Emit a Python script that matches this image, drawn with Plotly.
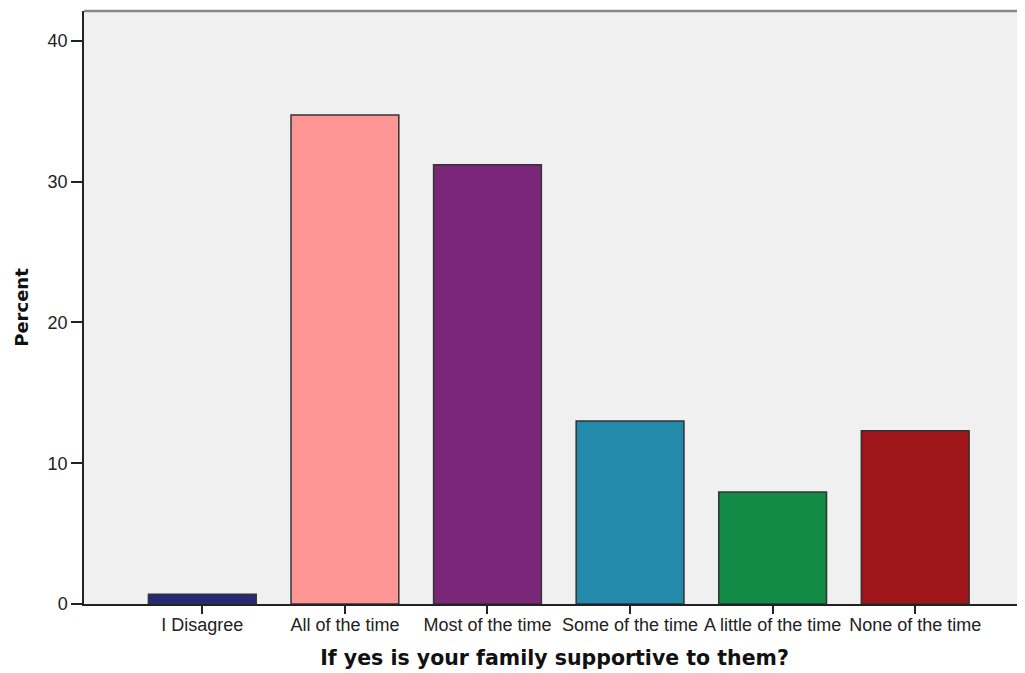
import plotly.graph_objects as go

categories = ["I Disagree", "All of the time", "Most of the time",
              "Some of the time", "A little of the time", "None of the time"]
percent = [0.7, 34.75, 31.2, 13.0, 7.95, 12.3]
bar_colors = ["#262a76", "#fe9696", "#7a277a", "#238aac", "#118b46", "#a0151a"]

fig = go.Figure()
fig.add_trace(go.Bar(
    x=list(range(len(categories))), y=percent,
    width=0.756,
    marker=dict(color=bar_colors, line=dict(color="#333333", width=1.5)),
    hoverinfo="y",
))

tick_font = dict(family="Liberation Sans, Arial, sans-serif", size=18, color="#222222")
title_font = dict(family="DejaVu Sans, Verdana, sans-serif", size=18, color="#111111")

# page body adds an 8px offset, so the figure is sized a bit smaller than the window
fig.update_layout(
    width=1017, height=665,
    margin=dict(l=76, r=0, t=3, b=69),
    plot_bgcolor="#f0f0f0", paper_bgcolor="white",
    showlegend=False,
    xaxis=dict(
        range=[-0.83, 5.77],
        tickvals=list(range(len(categories))), ticktext=categories,
        ticks="outside", ticklen=8, tickwidth=1.5, tickcolor="#222222",
        ticklabelstandoff=-4,
        showline=True, linecolor="#222222", linewidth=1.5,
        showgrid=False, zeroline=False, tickfont=tick_font,
        title=dict(text="<b>If yes is your family supportive to them?</b>",
                   font=dict(family="DejaVu Sans, Verdana, sans-serif", size=20.5, color="#111111"),
                   standoff=16),
    ),
    yaxis=dict(
        range=[0, 42.13],
        tickvals=[0, 10, 20, 30, 40],
        ticks="outside", ticklen=11, tickwidth=1.5, tickcolor="#222222",
        showline=True, linecolor="#222222", linewidth=1.5,
        showgrid=False, zeroline=False, tickfont=tick_font,
        title=dict(text="<b>Percent</b>", font=title_font, standoff=14),
    ),
)

# gray frame line along the top of the plot area
fig.add_shape(type="line", xref="paper", yref="paper", x0=0, x1=1, y0=1, y1=1,
              line=dict(color="#888888", width=2.5))

fig.write_html("out.html")
